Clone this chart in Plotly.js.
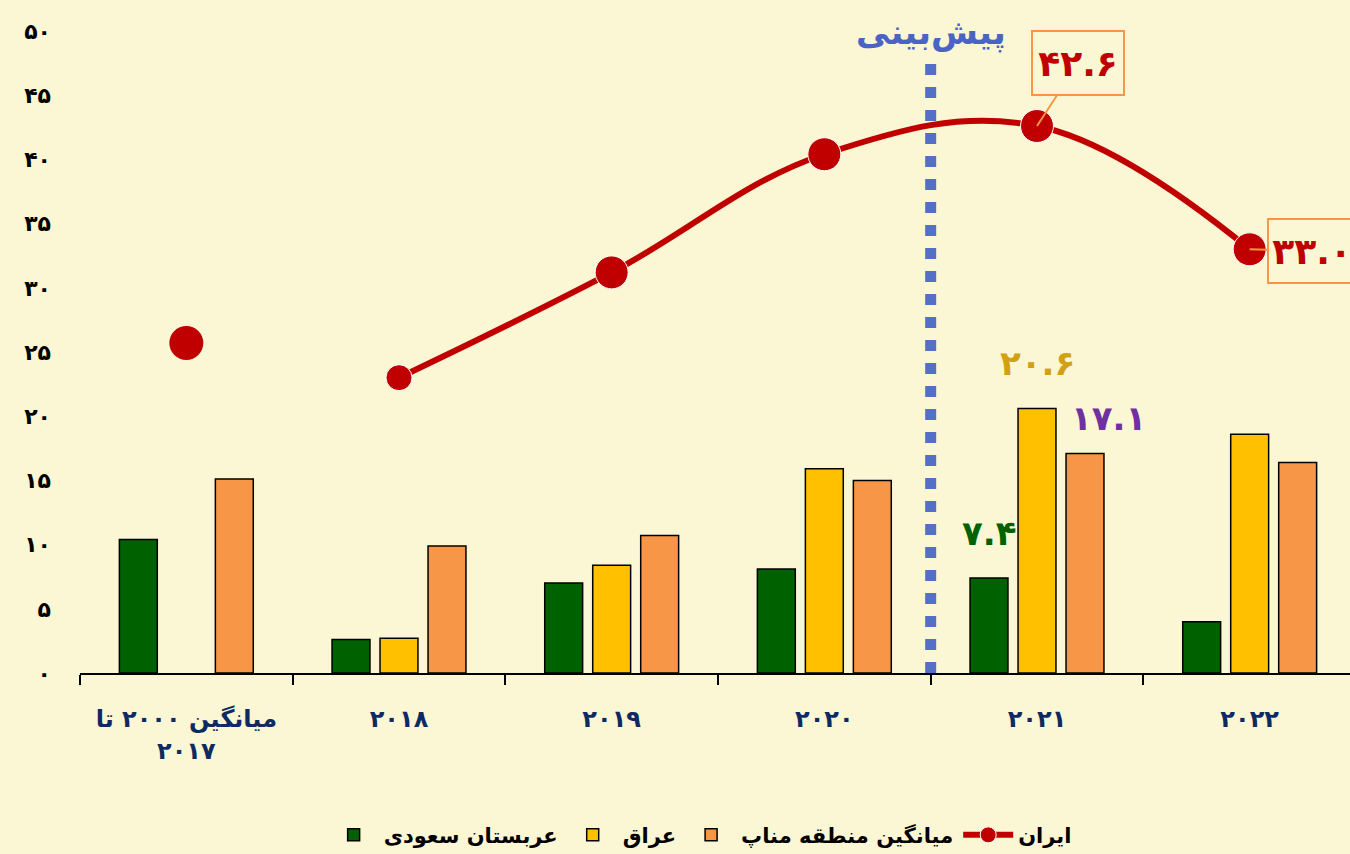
<!DOCTYPE html>
<html>
<head>
<meta charset="utf-8">
<script src="https://cdn.plot.ly/plotly-3.0.1.min.js"></script>
<style>
html,body{margin:0;padding:0;overflow:hidden;background:#FBF6D3;}
#chart{width:1356px;height:854px;}
</style>
</head>
<body>
<div id="chart"></div>
<script>
// ---- data ----
const categories = ['میانگین ۲۰۰۰ تا<br>۲۰۱۷', '۲۰۱۸', '۲۰۱۹', '۲۰۲۰', '۲۰۲۱', '۲۰۲۲'];
const saudi = [10.4, 2.6, 7.0, 8.1, 7.4, 4.0];
const iraq = [null, 2.7, 8.4, 15.9, 20.6, 18.6];
const menap = [15.1, 9.9, 10.7, 15.0, 17.1, 16.4];
const iran = [25.7, 23.0, 31.2, 40.4, 42.6, 33.0];
const seriesNames = ['عربستان سعودی', 'عراق', 'میانگین منطقه مناپ', 'ایران'];
const yTicks = [0, 5, 10, 15, 20, 25, 30, 35, 40, 45, 50];
const forecastLabel = 'پیش‌بینی';

// ---- helpers ----
const faDigits = '۰۱۲۳۴۵۶۷۸۹';
function toFa(v, dec) {
  const s = (dec === undefined) ? String(v) : v.toFixed(dec);
  return s.replace(/[0-9]/g, d => faDigits[+d]);
}
const BG = '#FBF6D3';
const FONT = 'DejaVu Sans, Noto Sans, sans-serif';

const barStyle = (color) => ({color: color, line: {color: '#000000', width: 1.5}});

const traces = [
  {type: 'bar', name: seriesNames[0], x: categories, y: saudi, marker: barStyle('#006100')},
  {type: 'bar', name: seriesNames[1], x: categories, y: iraq, marker: barStyle('#FFC000')},
  {type: 'bar', name: seriesNames[2], x: categories, y: menap, marker: barStyle('#F79646')},
  {type: 'scatter', mode: 'lines+markers', name: seriesNames[3],
   x: categories.slice(1), y: iran.slice(1),
   line: {color: '#C00000', width: 6, shape: 'spline', smoothing: 1.1},
   marker: {color: '#C00000', size: [26, 33, 33, 33, 33], opacity: 1}},
  {type: 'scatter', mode: 'markers', name: seriesNames[3], showlegend: false,
   x: [categories[0]], y: [iran[0]],
   marker: {color: '#C00000', size: 34, opacity: 1}}
];

const calloutFont = {family: FONT, size: 36, color: '#C00000'};
const annotations = [
  {x: 3.5, y: 0.997, xref: 'x', yref: 'paper', text: '<b>' + forecastLabel + '</b>', showarrow: false,
   font: {family: FONT, size: 34, color: '#4A63C4'}, yanchor: 'middle'},
  {x: 4, y: iran[4], xref: 'x', yref: 'y', text: '<b>' + toFa(iran[4], 1) + '</b>',
   showarrow: true, arrowhead: 0, arrowwidth: 2, arrowcolor: '#F79646', ax: 41, ay: -63,
   bordercolor: '#F79646', borderwidth: 2, bgcolor: BG, width: 88, height: 60, font: calloutFont},
  {x: 5, y: iran[5], xref: 'x', yref: 'y', text: '<b>' + toFa(iran[5], 1) + '</b>',
   showarrow: true, arrowhead: 0, arrowwidth: 2, arrowcolor: '#F79646', ax: 62, ay: 2,
   bordercolor: '#F79646', borderwidth: 2, bgcolor: BG, width: 84, height: 60, font: calloutFont},
  {x: 4, y: iraq[4], xref: 'x', yref: 'y', text: '<b>' + toFa(iraq[4], 1) + '</b>', showarrow: false,
   yshift: 46, font: {family: FONT, size: 34, color: '#D2A010'}},
  {x: 4, y: menap[4], xref: 'x', yref: 'y', text: '<b>' + toFa(menap[4], 1) + '</b>', showarrow: false,
   xshift: 71, yshift: 35, font: {family: FONT, size: 34, color: '#7030A0'}},
  {x: 4, y: saudi[4], xref: 'x', yref: 'y', text: '<b>' + toFa(saudi[4], 1) + '</b>', showarrow: false,
   xshift: -48, yshift: 45, font: {family: FONT, size: 34, color: '#006100'}}
];

const layout = {
  width: 1356, height: 854,
  paper_bgcolor: BG, plot_bgcolor: BG,
  margin: {l: 80, r: 0, t: 31, b: 181},
  barmode: 'group', bargap: 0.323, bargroupgap: 0.21,
  showlegend: true,
  legend: {orientation: 'h', x: 0.486, xanchor: 'center', yref: 'container', y: 0.022, yanchor: 'middle',
           font: {family: FONT, size: 21, color: '#000000', weight: 'bold'}, itemwidth: 50},
  xaxis: {
    type: 'category', categoryorder: 'array', categoryarray: categories,
    tickmode: 'array', tickvals: categories, ticktext: categories.map(c => '<b>' + c + '</b>'),
    range: [-0.5, categories.length - 0.5], automargin: false,
    showline: true, linecolor: '#000000', linewidth: 1.5,
    ticks: 'outside', ticklen: 10, tickwidth: 2, tickcolor: '#000000', tickson: 'boundaries',
    showgrid: false, zeroline: false, ticklabelstandoff: 24,
    tickfont: {family: FONT, size: 24, color: '#0D2A63'}
  },
  yaxis: {
    range: [0, 50], tickmode: 'array', tickvals: yTicks, ticktext: yTicks.map(v => '<b>' + toFa(v) + '</b>'),
    showline: false, showgrid: false, zeroline: false, ticks: '', automargin: false,
    ticklabelstandoff: 28,
    tickfont: {family: FONT, size: 22, color: '#000000'}
  },
  shapes: [
    {type: 'line', xref: 'x', yref: 'y', x0: 3.5, x1: 3.5, y0: 0, y1: 47.6,
     line: {color: '#5470C6', width: 11, dash: '11px,12px'}, layer: 'above'}
  ],
  annotations: annotations
};

Plotly.newPlot('chart', traces, layout, {displayModeBar: false, staticPlot: true});
</script>
</body>
</html>
